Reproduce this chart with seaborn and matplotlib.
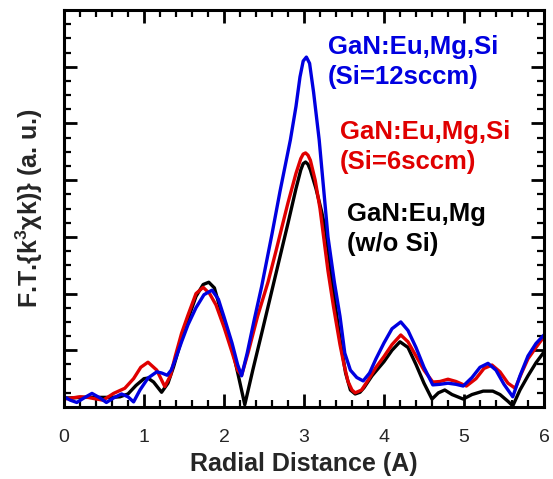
import matplotlib
matplotlib.use('Agg')
import matplotlib.pyplot as plt
from matplotlib.ticker import MultipleLocator, NullFormatter
import numpy as np
import pandas as pd
import seaborn as sns

# Radial distance (A) and F.T. magnitude, one set per sample
x_black=[0.0,0.1,0.2,0.3,0.4,0.5,0.6,0.7,0.8,0.9,1.0,1.05,1.12,1.22,1.3,1.37,1.45,1.55,1.65,1.74,
         1.81,1.88,1.95,2.0,2.1,2.18,2.26,2.36,2.48,2.6,2.7,2.8,2.9,2.96,2.99,3.02,3.05,3.08,3.15,3.22,
         3.27,3.36,3.45,3.52,3.58,3.64,3.7,3.75,3.85,4.0,4.1,4.2,4.3,4.4,4.5,4.6,4.68,4.76,4.85,4.99,
         5.1,5.24,5.36,5.45,5.55,5.61,5.7,5.8,5.9,6.0]
y_black=[0.16,0.16,0.17,0.17,0.17,0.17,0.17,0.18,0.23,0.38,0.50,0.51,0.44,0.26,0.42,0.71,1.10,1.55,1.95,2.16,
         2.20,2.10,1.75,1.45,1.05,0.55,0.04,0.65,1.35,2.06,2.65,3.24,3.85,4.18,4.29,4.32,4.28,4.18,3.85,3.45,
         3.12,2.12,1.20,0.60,0.30,0.23,0.26,0.34,0.55,0.80,1.00,1.15,1.05,0.75,0.42,0.14,0.25,0.30,0.22,0.14,
         0.22,0.28,0.28,0.22,0.10,0.02,0.30,0.55,0.78,0.97]

x_red=[0.0,0.1,0.2,0.3,0.37,0.49,0.62,0.76,0.87,0.96,1.05,1.16,1.26,1.33,1.39,1.47,1.55,1.65,1.74,1.82,
       1.9,2.0,2.1,2.17,2.22,2.3,2.42,2.55,2.65,2.72,2.8,2.9,2.96,2.99,3.02,3.05,3.08,3.14,3.2,3.3,
       3.37,3.45,3.5,3.55,3.6,3.64,3.72,3.8,3.9,4.0,4.1,4.21,4.3,4.4,4.5,4.61,4.7,4.8,4.9,5.03,
       5.15,5.25,5.35,5.45,5.55,5.64,5.72,5.8,5.9,6.0]
y_red=[0.14,0.16,0.18,0.17,0.15,0.12,0.24,0.33,0.50,0.70,0.79,0.65,0.36,0.55,0.89,1.30,1.62,2.00,2.11,2.00,
       1.80,1.41,0.97,0.65,0.56,0.95,1.60,2.20,2.75,3.15,3.60,4.12,4.38,4.46,4.48,4.44,4.35,4.00,3.50,2.40,
       1.76,1.10,0.75,0.45,0.30,0.25,0.30,0.47,0.70,0.89,1.10,1.27,1.15,0.90,0.65,0.44,0.45,0.49,0.45,0.37,
       0.50,0.68,0.74,0.62,0.42,0.33,0.60,0.85,1.05,1.24]

x_blue=[0.0,0.08,0.16,0.25,0.35,0.45,0.53,0.62,0.72,0.8,0.87,0.95,1.05,1.16,1.22,1.29,1.34,1.39,1.47,1.55,
        1.65,1.75,1.85,1.93,2.0,2.1,2.17,2.22,2.29,2.38,2.47,2.6,2.7,2.83,2.9,2.95,2.99,3.03,3.07,3.12,
        3.19,3.3,3.38,3.45,3.51,3.58,3.66,3.74,3.82,3.9,4.0,4.1,4.21,4.3,4.4,4.5,4.61,4.7,4.8,4.9,
        4.99,5.1,5.2,5.3,5.4,5.5,5.61,5.7,5.8,5.9,6.0]
y_blue=[0.18,0.12,0.08,0.16,0.24,0.16,0.08,0.16,0.23,0.18,0.09,0.30,0.51,0.62,0.60,0.56,0.65,0.83,1.15,1.45,
        1.75,1.98,2.06,1.90,1.59,1.13,0.75,0.55,0.95,1.55,2.12,3.05,3.80,4.71,5.30,5.82,6.10,6.17,6.06,5.55,
        4.71,3.00,2.20,1.60,0.95,0.65,0.52,0.46,0.60,0.85,1.13,1.38,1.50,1.35,1.05,0.70,0.39,0.40,0.42,0.40,
        0.37,0.52,0.70,0.77,0.65,0.40,0.18,0.55,0.90,1.12,1.27]

labels=['GaN:Eu,Mg\n(w/o Si)','GaN:Eu,Mg,Si\n(Si=6sccm)','GaN:Eu,Mg,Si\n(Si=12sccm)']
colors=['#000000','#e00000','#0000e0']

sns.set_style('ticks')
plt.rcParams['font.family']=['Liberation Sans','DejaVu Sans']
plt.rcParams['mathtext.fontset']='custom'
plt.rcParams['mathtext.rm']='Liberation Sans'
plt.rcParams['mathtext.bf']='Liberation Sans:bold'

fig=plt.figure(figsize=(5.53,4.79),dpi=100)
ax=fig.add_axes([0.1157,0.1503,0.868,0.8288])

series=[(x_black,y_black),(x_red,y_red),(x_blue,y_blue)]
for (xs,ys),c in zip(series,colors):
    sns.lineplot(x=xs,y=ys,ax=ax,color=c,linewidth=2.4,estimator=None,sort=False)

ax.set_xlim(0,6)
ax.set_ylim(0,7)
ax.xaxis.set_major_locator(MultipleLocator(1))
ax.xaxis.set_minor_locator(MultipleLocator(0.2))
ax.yaxis.set_major_locator(MultipleLocator(1))
ax.yaxis.set_minor_locator(MultipleLocator(0.25))
ax.yaxis.set_major_formatter(NullFormatter())
ax.tick_params(which='both',direction='in',top=True,right=True,color='k')
ax.tick_params(which='major',length=9.5,width=2.0)
ax.tick_params(which='minor',length=4.7,width=1.6)
ax.tick_params(axis='x',which='major',labelsize=14,pad=16)
ax.tick_params(axis='y',which='major',pad=1)
for s in ax.spines.values():
    s.set_linewidth(2.2)
    s.set_color('k')

ax.set_xlabel('Radial Distance (A)',fontsize=18,fontweight='bold',labelpad=4)
ax.set_ylabel(r'F.T.{k$^{\mathbf{3}}$χk)} (a. u.)',fontsize=18,fontweight='bold',labelpad=10)

# sample labels placed beside the main peak
ax.text(3.3,6.08,labels[2],color=colors[2],fontsize=18.5,fontweight='bold',va='center',linespacing=1.3)
ax.text(3.45,4.58,labels[1],color=colors[1],fontsize=18.5,fontweight='bold',va='center',linespacing=1.3)
ax.text(3.54,3.14,labels[0],color=colors[0],fontsize=18.5,fontweight='bold',va='center',linespacing=1.3)

fig.savefig('out.png',dpi=100)
